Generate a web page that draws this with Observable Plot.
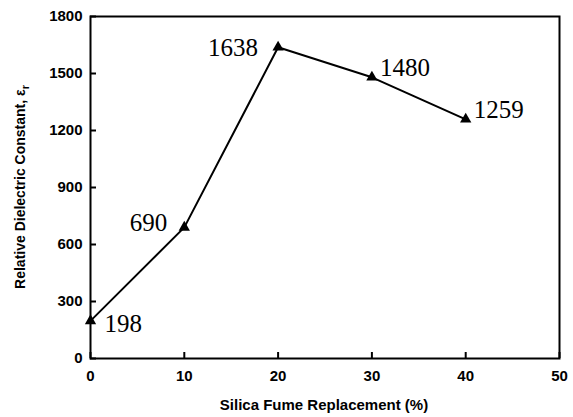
<!DOCTYPE html>
<html>
<head>
<meta charset="utf-8">
<script src="https://cdn.jsdelivr.net/npm/d3@7"></script>
<script src="https://cdn.jsdelivr.net/npm/@observablehq/plot@0.6"></script>
<style>
body { margin: 0; background: #fff; }
#chart { width: 573px; height: 417px; }
</style>
</head>
<body>
<div id="chart"></div>
<script>
const replacement = [0, 10, 20, 30, 40];
const dielectric = [198, 690, 1638, 1480, 1259];
const xTicks = [0, 10, 20, 30, 40, 50];
const yTicks = [0, 300, 600, 900, 1200, 1500, 1800];
const xLabel = "Silica Fume Replacement (%)";
const yLabel = "Relative Dielectric Constant, ";

const data = replacement.map((x, i) => ({x, y: dielectric[i], label: String(dielectric[i]), i}));
const labelFont = {fontFamily: "'Liberation Serif', 'Times New Roman', serif", fontSize: 25, fill: "black"};
const pick = (idx) => data.filter(d => idx.includes(d.i));
// inward tick length, expressed per axis unit (~6px)
const xTickLen = 1800 * 6 / 342;
const yTickLen = 50 * 6 / 469;

const plot = Plot.plot({
  width: 573,
  height: 417,
  marginLeft: 90,
  marginRight: 14,
  marginTop: 16,
  marginBottom: 59,
  style: {fontFamily: "Arial, 'Liberation Sans', sans-serif", background: "white"},
  x: {domain: [0, 50]},
  y: {domain: [0, 1800]},
  marks: [
    Plot.frame({stroke: "black", strokeWidth: 2}),
    Plot.ruleX(xTicks, {x: d => d, y1: () => 0, y2: () => xTickLen, stroke: "black", strokeWidth: 2}),
    Plot.ruleY(yTicks, {y: d => d, x1: () => 0, x2: () => yTickLen, stroke: "black", strokeWidth: 2}),
    Plot.axisX({ticks: xTicks, tickSize: 0, tickPadding: 12, tickFormat: d3.format("d"), label: null, fontSize: 15, fontWeight: "bold", fill: "black"}),
    Plot.axisY({ticks: yTicks, tickSize: 0, tickPadding: 8, tickFormat: d3.format("d"), label: null, fontSize: 15, fontWeight: "bold", fill: "black"}),
    Plot.line(data, {x: "x", y: "y", stroke: "black", strokeWidth: 2}),
    Plot.dot(data, {x: "x", y: "y", symbol: "triangle", r: 4.2, fill: "black", stroke: "none"}),
    Plot.text(pick([0]), {x: "x", y: "y", text: "label", textAnchor: "start", dx: 14, dy: 3, ...labelFont}),
    Plot.text(pick([1]), {x: "x", y: "y", text: "label", textAnchor: "end", dx: -17, dy: -4, ...labelFont}),
    Plot.text(pick([2]), {x: "x", y: "y", text: "label", textAnchor: "end", dx: -20, dy: 1, ...labelFont}),
    Plot.text(pick([3, 4]), {x: "x", y: "y", text: "label", textAnchor: "start", dx: 8, dy: -9, ...labelFont})
  ]
});

const svg = d3.select(plot);
svg.append("text")
  .attr("x", 324).attr("y", 410)
  .attr("text-anchor", "middle")
  .attr("font-family", "Arial, 'Liberation Sans', sans-serif")
  .attr("font-size", 15).attr("font-weight", "bold")
  .text(xLabel);
const yt = svg.append("text")
  .attr("transform", "translate(25,187) rotate(-90)")
  .attr("text-anchor", "middle")
  .attr("font-family", "Arial, 'Liberation Sans', sans-serif")
  .attr("font-size", 14).attr("font-weight", "bold");
yt.append("tspan").text(yLabel);
yt.append("tspan").text("ε");
yt.append("tspan").attr("dy", 4).attr("font-size", 11).text("r");

document.getElementById("chart").appendChild(plot);
</script>
</body>
</html>
